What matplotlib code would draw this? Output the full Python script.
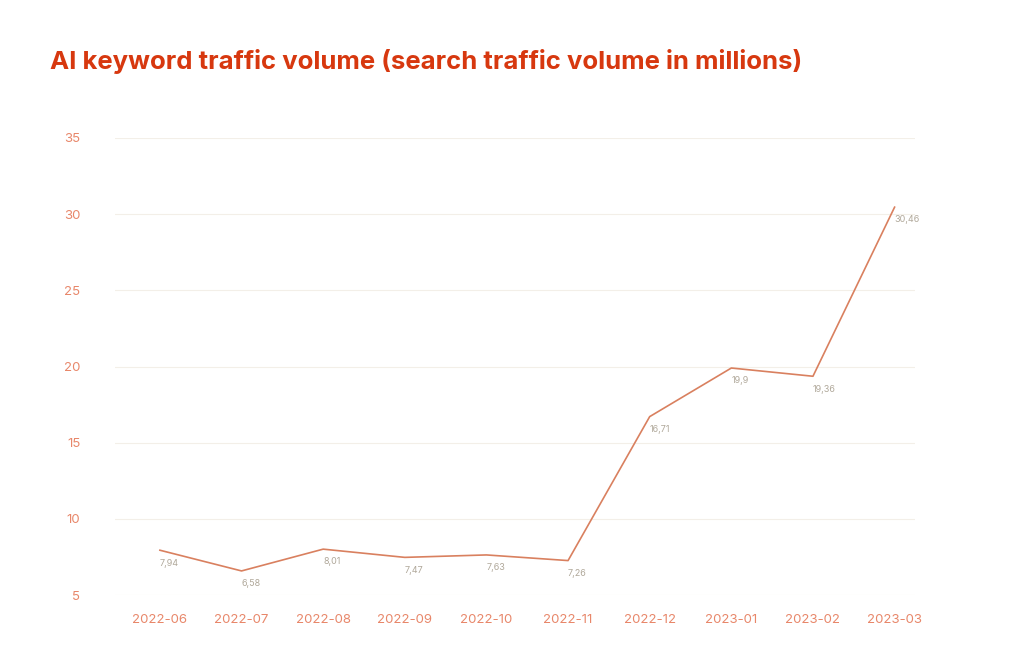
import matplotlib
matplotlib.use("Agg")
import matplotlib.pyplot as plt

months = ["2022-06","2022-07","2022-08","2022-09","2022-10","2022-11","2022-12","2023-01","2023-02","2023-03"]
volume = [7.94, 6.58, 8.01, 7.47, 7.63, 7.26, 16.71, 19.9, 19.36, 30.46]
yticks = [5, 10, 15, 20, 25, 30, 35]

plt.rcParams["font.family"] = "Inter"
fig = plt.figure(figsize=(10.24, 6.70), dpi=100)
ax = fig.add_axes([115/1024, 1-595/670, 800/1024, (595-138)/670])
x = list(range(len(months)))
ax.plot(x, volume, color="#D9805F", lw=1.2)
for xi, v in zip(x, volume):
    lab = f"{v:g}".replace(".", ",")
    ax.annotate(lab, (xi, v), xytext=(0, -6), textcoords="offset points",
                ha="left", va="top", fontsize=6.5, color="#B0A89A")
ax.set_ylim(5, 35)
ax.set_xlim(-0.55, len(months)-1+0.25)
ax.set_yticks(yticks)
ax.set_xticks(x)
ax.set_xticklabels(months)
ax.tick_params(axis="both", length=0, colors="#E8876A", labelsize=9.5)
ax.tick_params(axis="y", pad=25)
ax.tick_params(axis="x", pad=14)
ax.grid(axis="y", color="#F3EFE8", lw=0.8)
for s in ax.spines.values():
    s.set_visible(False)
fig.text(50/1024, 1-62/670, "AI keyword traffic volume (search traffic volume in millions)",
         fontsize=18.5, fontweight="bold", color="#D7380F", va="center", ha="left")
fig.savefig("out.png", dpi=100, facecolor="white")
